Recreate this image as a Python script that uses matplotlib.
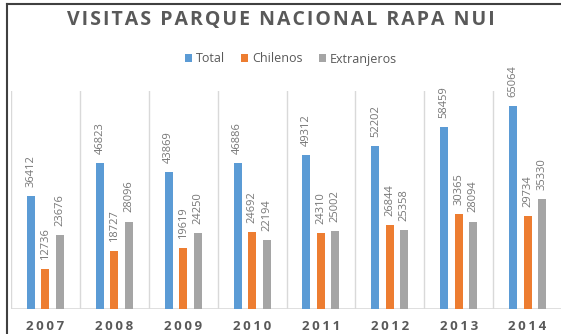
import numpy as np
import matplotlib.pyplot as plt
from matplotlib.lines import Line2D

# Visitas anuales al Parque Nacional Rapa Nui
anios = ["2007", "2008", "2009", "2010", "2011", "2012", "2013", "2014"]
total = [36412, 46823, 43869, 46886, 49312, 52202, 58459, 65064]
chilenos = [12736, 18727, 19619, 24692, 24310, 26844, 30365, 29734]
extranjeros = [23676, 28096, 24250, 22194, 25002, 25358, 28094, 35330]

series = [("Total", total, "#5B9BD5"),
          ("Chilenos", chilenos, "#ED7D31"),
          ("Extranjeros", extranjeros, "#A5A5A5")]

plt.rcParams['font.family'] = ['Open Sans', 'DejaVu Sans']

W, H = 561, 334
fig = plt.figure(figsize=(W / 100, H / 100), dpi=100, facecolor='white')
ax = fig.add_axes([11 / W, 25 / H, 551 / W, 218 / H])

x = np.arange(len(anios))
ancho = 0.116
desp = 0.21

for i, (nombre, valores, color) in enumerate(series):
    pos = x + (i - 1) * desp
    barras = ax.bar(pos, valores, width=ancho, color=color, label=nombre, zorder=3)
    for b, v in zip(barras, valores):
        ax.annotate(str(v), (b.get_x() + b.get_width() / 2, v),
                    xytext=(0, 6.5), textcoords='offset points',
                    rotation=90, ha='center', va='bottom',
                    fontsize=8, color='#767676')

ax.set_xlim(-0.5, len(anios) - 0.5)
ax.set_ylim(0, 70000)

# separadores verticales entre categorias
for s in np.arange(-0.5, len(anios), 1.0):
    ax.axvline(s, color='#D9D9D9', lw=1, zorder=1)
ax.axhline(0, color='#D9D9D9', lw=1.2, zorder=2)

for sp in ax.spines.values():
    sp.set_visible(False)
ax.set_yticks([])
ax.set_xticks(x)
ax.set_xticklabels(["\u2009".join(a) for a in anios], fontsize=9.5,
                   fontweight='bold', color='#595959')
ax.tick_params(axis='x', length=0, pad=8)

titulo = "VISITAS PARQUE NACIONAL RAPA NUI"
fig.text(281 / W, 1 - 20.5 / H, "\u200a".join(titulo),
         ha='center', va='center', fontsize=14, fontweight='bold',
         color='#595959')

leg = fig.legend(loc='center', bbox_to_anchor=(291 / W, 1 - 59 / H), ncol=3,
                 frameon=False, fontsize=9, handlelength=0.55, handleheight=0.55,
                 handletextpad=0.3, columnspacing=1.3, labelcolor='#595959')

# marco del grafico
fig.add_artist(Line2D([7 / W, 7 / W], [0, 1 - 4 / H], color='#404040', lw=1.5))
fig.add_artist(Line2D([7 / W, 1], [1 - 4 / H, 1 - 4 / H], color='#404040', lw=1.5))

fig.savefig('out.png', dpi=100, facecolor='white')
